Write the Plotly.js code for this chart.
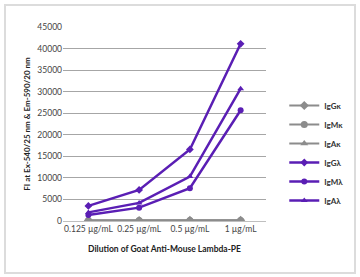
<!DOCTYPE html>
<html><head><meta charset="utf-8">
<script src="https://cdn.plot.ly/plotly-3.0.1.min.js"></script>
<style>html,body{margin:0;padding:0;background:#fff}#c{width:360px;height:277px}
#f{position:absolute;left:4px;top:4px;width:348px;height:266px;border:2px solid #dcdcdc;pointer-events:none}</style>
</head><body><div id="c"></div><div id="f"></div>
<script>
const categories = ["0.125 µg/mL", "0.25 µg/mL", "0.5 µg/mL", "1 µg/mL"];
const seriesNames = ["IgGκ", "IgMκ", "IgAκ", "IgGλ", "IgMλ", "IgAλ"];
const IgGk = [120, 130, 140, 150];
const IgMk = [100, 110, 120, 130];
const IgAk = [90, 100, 110, 120];
const IgGl = [3500, 7200, 16600, 41100];
const IgMl = [1400, 3100, 7600, 25700];
const IgAl = [2000, 4200, 10300, 30700];
const yTickStep = 5000;
const yMax = 45000;

const values = [IgGk, IgMk, IgAk, IgGl, IgMl, IgAl];
const symbols = ["diamond", "circle", "triangle-up", "diamond", "circle", "triangle-up"];
const grey = "#8c8c8c", purple = "#5a1eb4";
const traces = seriesNames.map((n, i) => ({
  type: "scatter", mode: "lines+markers", name: n,
  x: categories, y: values[i],
  line: {color: i < 3 ? grey : purple, width: i < 3 ? 2 : 2.5},
  marker: {symbol: symbols[i], size: i < 3 ? 7 : 6, color: i < 3 ? grey : purple}
}));

const layout = {
  width: 360, height: 277,
  margin: {l: 63, r: 62, t: 27, b: 56},
  paper_bgcolor: "#fff", plot_bgcolor: "#fff",
  font: {family: "Lato, 'Open Sans', sans-serif", size: 8, color: "#444"},
  showlegend: true,
  legend: {x: 1.09, y: 0.67, xanchor: "left", yanchor: "top",
    font: {size: 8, color: "#333", family: "Lato, sans-serif", weight: "bold"},
    itemwidth: 30, tracegroupgap: 0, bgcolor: "rgba(0,0,0,0)"},
  xaxis: {type: "category", showgrid: false, showline: true, linecolor: "#bfbfbf", linewidth: 1,
    ticks: "", tickfont: {size: 8.5, color: "#444"},
    range: [-0.5, 3.5],
    title: {text: "Dilution of Goat Anti-Mouse Lambda-PE", font: {size: 8.5, color: "#222", weight: "bold"}, standoff: 12}},
  yaxis: {range: [0, yMax], dtick: yTickStep, tick0: 0, tickformat: "d",
    showgrid: true, gridcolor: "#a6a6a6", gridwidth: 1.2,
    zeroline: false, showline: false, tickfont: {size: 8.5, color: "#444"}, ticks: "",
    title: {text: "FI at Ex-540/25 nm & Em-590/20 nm", font: {size: 8, color: "#222", weight: "bold"}, standoff: 5}}
};
Plotly.newPlot("c", traces, layout, {displayModeBar: false});
</script></body></html>
